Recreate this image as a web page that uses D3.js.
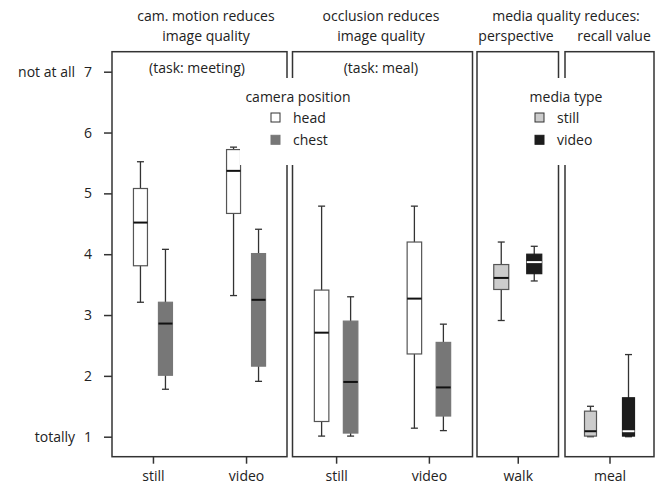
<!DOCTYPE html>
<head>
    <meta charset="utf-8">
    <script src="https://d3js.org/d3.v7.min.js"></script>
    <style>
        body { margin: 0; background: #fff; }
        svg { font-family: "Open Sans", sans-serif; font-size: 14px; fill: #222; }
    </style>
</head>
<body>
    <script>
        // five-number summaries: [low whisker, q1, median, q3, high whisker]
        const motionCats = ["still", "video"];
        const motionHead = [[3.21, 3.81, 4.52, 5.08, 5.52], [3.32, 4.67, 5.37, 5.72, 5.76]];
        const motionChest = [[1.78, 2.01, 2.86, 3.21, 4.08], [1.91, 2.16, 3.25, 4.01, 4.41]];
        const occlusionCats = ["still", "video"];
        const occlusionHead = [[1.01, 1.25, 2.71, 3.41, 4.79], [1.14, 2.36, 3.27, 4.20, 4.79]];
        const occlusionChest = [[1.01, 1.06, 1.90, 2.90, 3.30], [1.10, 1.34, 1.81, 2.55, 2.85]];
        const perspectiveCats = ["walk"];
        const perspectiveStill = [[2.91, 3.42, 3.61, 3.83, 4.20]];
        const perspectiveVideo = [[3.56, 3.68, 3.87, 4.00, 4.13]];
        const recallCats = ["meal"];
        const recallStill = [[1.00, 1.01, 1.09, 1.42, 1.50]];
        const recallVideo = [[1.00, 1.01, 1.09, 1.64, 2.35]];
        const yTicks = [1, 2, 3, 4, 5, 6, 7];

        const width = 665, height = 485;
        const svg = d3.select("body").append("svg")
            .attr("width", width).attr("height", height);

        const y = d3.scaleLinear().domain([1, 7]).range([436.7, 71.7]);
        const frameTop = 51.7, frameBottom = 456.7;

        const styles = {
            head: { fill: "#fff", stroke: "#555", median: "#111" },
            chest: { fill: "#777", stroke: "#777", median: "#111" },
            still: { fill: "#ccc", stroke: "#555", median: "#111" },
            video: { fill: "#1c1c1c", stroke: "#1c1c1c", median: "#fff" }
        };

        const panels = [
            { x0: 112, x1: 287, pad: 0.44, cats: motionCats, spread: 12.5, bw: 14,
              series: [["head", motionHead], ["chest", motionChest]] },
            { x0: 292.5, x1: 472.5, pad: 0.47, cats: occlusionCats, spread: 14.5, bw: 14.5,
              series: [["head", occlusionHead], ["chest", occlusionChest]] },
            { x0: 477, x1: 558.5, pad: 0.5, cats: perspectiveCats, spread: 16.5, bw: 15,
              series: [["still", perspectiveStill], ["video", perspectiveVideo]] },
            { x0: 565, x1: 654, pad: 0.5, cats: recallCats, spread: 19, bw: 12,
              series: [["still", recallStill], ["video", recallVideo]] }
        ];

        panels.forEach(p => {
            const g = svg.append("g");
            const x = d3.scalePoint().domain(p.cats).range([p.x0, p.x1]).padding(p.pad);
            const sub = d3.scalePoint().domain(p.series.map(s => s[0])).range([-p.spread, p.spread]);

            g.append("rect")
                .attr("x", p.x0).attr("y", frameTop)
                .attr("width", p.x1 - p.x0).attr("height", frameBottom - frameTop)
                .attr("fill", "none").attr("stroke", "#333").attr("stroke-width", 1.5);

            g.append("g")
                .attr("transform", `translate(0,${frameBottom})`)
                .call(d3.axisBottom(x).tickSize(7).tickPadding(7))
                .call(a => a.select(".domain").remove())
                .call(a => a.selectAll("line").attr("stroke", "#333").attr("stroke-width", 1.5))
                .call(a => a.selectAll("text").attr("font-family", "Open Sans").attr("font-size", 14).attr("fill", "#222"));

            p.series.forEach(([name, stats]) => {
                const st = styles[name];
                const bx = g.selectAll(null).data(stats.map((s, i) => ({ cat: p.cats[i], s })))
                    .enter().append("g")
                    .attr("transform", d => `translate(${x(d.cat) + sub(name)},0)`);
                const cw = 3.5;
                bx.append("line")
                    .attr("y1", d => y(d.s[0])).attr("y2", d => y(d.s[4]))
                    .attr("stroke", "#333").attr("stroke-width", 1.3);
                bx.append("line")
                    .attr("x1", -cw).attr("x2", cw)
                    .attr("y1", d => y(d.s[4])).attr("y2", d => y(d.s[4]))
                    .attr("stroke", "#333").attr("stroke-width", 1.3);
                bx.append("line")
                    .attr("x1", -cw).attr("x2", cw)
                    .attr("y1", d => y(d.s[0])).attr("y2", d => y(d.s[0]))
                    .attr("stroke", "#333").attr("stroke-width", 1.3);
                bx.append("rect")
                    .attr("x", -p.bw / 2).attr("width", p.bw)
                    .attr("y", d => y(d.s[3])).attr("height", d => y(d.s[1]) - y(d.s[3]))
                    .attr("fill", st.fill).attr("stroke", st.stroke).attr("stroke-width", 1.2);
                bx.append("line")
                    .attr("x1", -p.bw / 2).attr("x2", p.bw / 2)
                    .attr("y1", d => y(d.s[2])).attr("y2", d => y(d.s[2]))
                    .attr("stroke", st.median).attr("stroke-width", 2);
            });
        });

        // left axis
        svg.append("g")
            .attr("transform", "translate(112,0)")
            .call(d3.axisLeft(y).tickValues(yTicks).tickFormat(d3.format("d")).tickSize(8).tickPadding(12))
            .call(a => a.select(".domain").remove())
            .call(a => a.selectAll("line").attr("stroke", "#333").attr("stroke-width", 1.5))
            .call(a => a.selectAll("text").attr("font-family", "Open Sans").attr("font-size", 14).attr("fill", "#222"));
        svg.append("text").attr("x", 75).attr("y", y(7) + 5).attr("text-anchor", "end").text("not at all");
        svg.append("text").attr("x", 75).attr("y", y(1) + 5).attr("text-anchor", "end").text("totally");

        // titles
        const titles = [
            [206, 20.7, "cam. motion reduces"], [206, 40.7, "image quality"],
            [381, 20.7, "occlusion reduces"], [381, 40.7, "image quality"],
            [566, 20.7, "media quality reduces:"],
            [516, 40.7, "perspective"], [614, 40.7, "recall value"],
            [197, 73, "(task: meeting)"], [381, 73, "(task: meal)"]
        ];
        svg.selectAll(null).data(titles).enter().append("text")
            .attr("x", d => d[0]).attr("y", d => d[1])
            .attr("text-anchor", "middle").text(d => d[2]);

        // legends
        const legends = [
            { cx: 298, x: 240, w: 118, title: "camera position", keys: ["head", "chest"], sx: 271 },
            { cx: 566, x: 520, w: 100, title: "media type", keys: ["still", "video"], sx: 535 }
        ];
        legends.forEach(l => {
            const g = svg.append("g");
            g.append("rect").attr("x", l.x).attr("y", 78).attr("width", l.w).attr("height", 87).attr("fill", "#fff");
            g.append("text").attr("x", l.cx).attr("y", 101.7).attr("text-anchor", "middle").text(l.title);
            l.keys.forEach((k, i) => {
                g.append("rect")
                    .attr("x", l.sx).attr("y", 113 + i * 22.3).attr("width", 9).attr("height", 9)
                    .attr("fill", styles[k].fill).attr("stroke", k === "head" || k === "still" ? "#333" : styles[k].fill)
                    .attr("stroke-width", 1);
                g.append("text").attr("x", l.sx + 22).attr("y", 123 + i * 22.3).text(k);
            });
        });
    </script>
</body>
